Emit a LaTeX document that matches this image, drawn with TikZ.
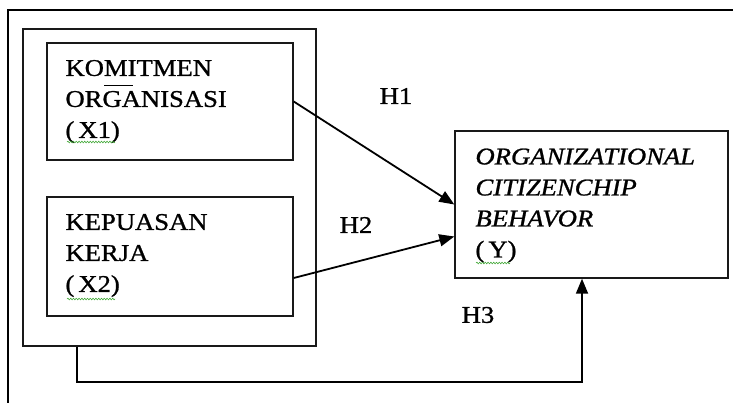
\documentclass[tikz,border=0pt]{standalone}
\usepackage{fontspec}
\setmainfont{Liberation Serif}[FakeStretch=1.11,FakeBold=1.0]
\usetikzlibrary{arrows.meta,calc,decorations.pathmorphing}
\newcommand\myoverbar{\makebox[0pt][l]{\hspace{0.08em}\rule[0.88em]{1.2em}{0.05em}}}
\begin{document}
\begin{tikzpicture}[x=1pt,y=-1pt,
  box/.style={draw=black!90,line width=1.4pt,inner sep=0pt},
  txt/.style={inner sep=0pt,align=left,font=\fontsize{24}{31}\selectfont},
  hlbl/.style={inner sep=0pt,font=\fontsize{24}{31}\selectfont},
  arr/.style={line width=1.8pt,-{Triangle[length=15pt,width=12pt]}},
  wavy/.style={draw={rgb,255:red,70;green,170;blue,60},line width=0.6pt,decorate,
    decoration={snake,amplitude=0.8pt,segment length=2.8pt}}]
\useasboundingbox (0,0) rectangle (733,402);
\fill[white] (0,0) rectangle (733,402);
% outer frame
\draw[line width=2pt] (740,10) -- (8,10) -- (8,410);
% boxes
\node[box,minimum width=293pt,minimum height=317pt] (grp) at (169.5,187.5) {};
\node[box,minimum width=246pt,minimum height=117pt] (x1) at (170,101.5) {};
\node[box,minimum width=246pt,minimum height=119pt] (x2) at (170,256.5) {};
\node[box,minimum width=273pt,minimum height=147pt] (yb) at (591.5,204.5) {};
% texts
\node[txt,anchor=north west] (t1) at ($(x1.north west)+(19,17.5)$) {KOMITMEN\\OR\myoverbar GANISASI\\(\,X1)};
\node[txt,anchor=north west] (t2) at ($(x2.north west)+(19,17.5)$) {KEPUASAN\\KERJA\\(\,X2)};
\node[txt,anchor=north west] (t3) at ($(yb.north west)+(21,18)$) {\textit{ORGANIZATIONAL}\\\textit{CITIZENCHIP}\\\textit{BEHAVOR}\\(\,Y)};
% spell-check underlines
\draw[wavy] (67,142) -- (115,142);
\draw[wavy] (67,299) -- (115,299);
\draw[wavy] (476,263) -- (510,263);
% labels
\node[hlbl] (h1) at (396,96) {H1};
\node[hlbl] (h2) at (356,225) {H2};
\node[hlbl] (h3) at (478,315) {H3};
% connectors
\draw[arr] (x1.east) -- (yb.west);
\draw[arr] ([yshift=-21.5pt]x2.east) -- ([yshift=-32pt]yb.west);
\draw[arr] ([xshift=-92.5pt]grp.south) -- ++(0,35) -| ([xshift=-9.5pt]yb.south);
\end{tikzpicture}
\end{document}
